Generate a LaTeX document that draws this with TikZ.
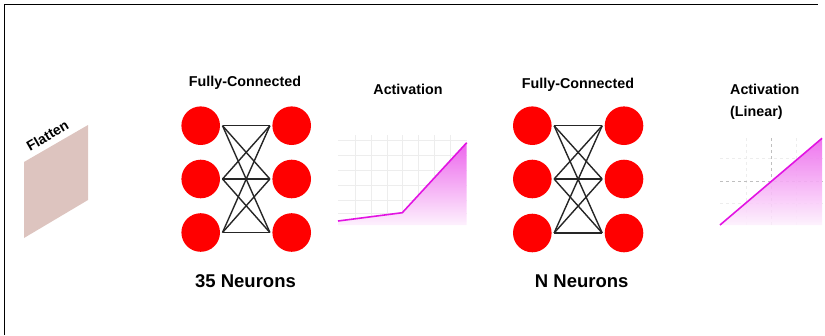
\documentclass[tikz,border=0pt]{standalone}
\usepackage{fontspec}
\setmainfont{Liberation Sans}
\begin{document}
\begin{tikzpicture}[x=1pt,y=-1pt,
  neuron/.style={circle,fill=red,draw=none,minimum size=38.6pt,inner sep=0pt,outer sep=2.5pt},
  link/.style={line width=1.4pt,black!85},
  title/.style={font=\fontsize{14.3}{17}\selectfont\bfseries,inner sep=0pt},
  count/.style={font=\fontsize{18.5}{22}\selectfont\bfseries,inner sep=0pt},
  gridline/.style={black!7,line width=0.6pt},
  actline/.style={line width=1.6pt,color=actmag,line join=round},
]
\definecolor{actmag}{RGB}{226,20,226}
\definecolor{flatcol}{RGB}{221,196,191}
\useasboundingbox (0,0) rectangle (825,335);

% frame
\draw[line width=1.6pt] (4.5,335) -- (4.5,4.5) -- (818,4.5);

% flatten layer
\fill[flatcol] (24,162) -- (88,125) -- (88,200) -- (24,238) -- cycle;
\node[font=\fontsize{14}{16}\selectfont\bfseries,rotate=30,inner sep=0pt] (flat) at (47.5,135.5) {Flatten};

% first fully-connected layer
\node[title] (fc1) at (245,83) {Fully-Connected};
\foreach \i/\y in {1/125.7,2/179,3/232.5}{
  \node[neuron] (a\i) at (200.7,\y) {};
  \node[neuron] (b\i) at (291.7,\y) {};
}
\foreach \i in {1,2,3}{
  \foreach \j in {1,2,3}{
    \draw[link] (a\i.east) -- (b\j.west);
  }
}
\node[count] (n1) at (245.5,281.5) {35 Neurons};

% first activation plot
\node[title] (act1) at (408,89.5) {Activation};
\foreach \x in {355,371,387,402,418,434,450}
  \draw[gridline] (\x,135) -- (\x,225);
\foreach \y in {140,155,170,185,200,213}
  \draw[gridline] (338,\y) -- (467,\y);
\shade[top color=actmag!65!white,bottom color=actmag!6!white]
  (338,221) -- (402.3,212.7) -- (466.7,142.7) -- (466.7,225) -- (338,225) -- cycle;
\draw[actline] (338,221) -- (402.3,212.7) -- (466.7,142.7);

% second fully-connected layer
\node[title] (fc2) at (578,85) {Fully-Connected};
\foreach \i/\y in {1/125.7,2/179,3/233}{
  \node[neuron] (c\i) at (532.3,\y) {};
  \node[neuron] (d\i) at (624,\y) {};
}
\foreach \i in {1,2,3}{
  \foreach \j in {1,2,3}{
    \draw[link] (c\i.east) -- (d\j.west);
  }
}
\node[count] (n2) at (581.7,281.5) {N Neurons};

% second activation plot (linear)
\node[title,align=left,anchor=north west,font=\fontsize{14.3}{22.7}\selectfont\bfseries] (act2) at (730,83.5) {Activation\\(Linear)};
\foreach \x in {746.7,796.7}
  \draw[gridline,dashed] (\x,138) -- (\x,225);
\foreach \y in {158,203}
  \draw[gridline,dashed] (720,\y) -- (823,\y);
\draw[black!25,dashed,line width=0.6pt] (771.7,138) -- (771.7,225);
\draw[black!25,dashed,line width=0.6pt] (720,181) -- (823,181);
\shade[top color=actmag!65!white,bottom color=actmag!6!white,opacity=0.9]
  (720,225) -- (822,138.3) -- (822,225) -- cycle;
\draw[actline] (720,225) -- (822,138.3);
\end{tikzpicture}
\end{document}
